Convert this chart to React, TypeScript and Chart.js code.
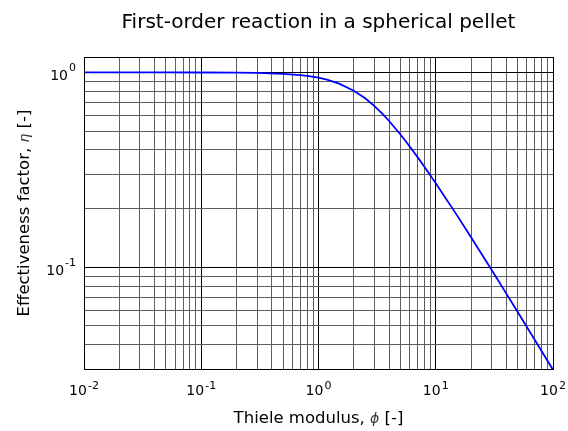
import React, { useEffect, useRef } from "react";
import { Chart, registerables } from "chart.js";

Chart.register(...registerables);

// Thiele modulus (x) and effectiveness factor (y)
const phiValues = [0.01, 0.02, 0.05, 0.1, 0.2, 0.3, 0.5, 0.7, 0.8, 1, 1.2, 1.5, 2, 2.5, 3, 3.5, 4, 5, 6, 7, 8, 10, 15, 20, 30, 40, 50, 70, 100];
const etaValues = [1.0, 0.99997, 0.99983, 0.99933, 0.99734, 0.99405, 0.98373, 0.96886, 0.95977, 0.9391, 0.91552, 0.87625, 0.80597, 0.73628, 0.67164, 0.61381, 0.563, 0.48005, 0.41667, 0.36735, 0.32813, 0.27, 0.18667, 0.1425, 0.09667, 0.073125, 0.0588, 0.042245, 0.0297];

const xMajorTicks = [0.01, 0.1, 1, 10, 100];
const yMajorTicks = [0.1, 1];
const xRange = [0.01, 100];
const yRange = [0.03, 1.2];

const titleText = "First-order reaction in a spherical pellet";
const xLabelText = "Thiele modulus, ";
const xLabelSym = "\u03D5";
const yLabelText = "Effectiveness factor, ";
const yLabelSym = "\u03B7";
const labelTail = " [-]";

const FONT = "'DejaVu Sans', sans-serif";

function allTicks(min: number, max: number): number[] {
  const out: number[] = [];
  for (let e = Math.floor(Math.log10(min)); e <= Math.ceil(Math.log10(max)); e++) {
    for (let m = 1; m <= 9; m++) {
      const v = parseFloat((m * Math.pow(10, e)).toPrecision(6));
      if (v >= min - 1e-12 && v <= max + 1e-12) out.push(v);
    }
  }
  return out;
}

function isMajor(v: number): boolean {
  const l = Math.log10(v);
  return Math.abs(l - Math.round(l)) < 1e-9;
}

const textPlugin = {
  id: "textPlugin",
  afterDraw(chart: any) {
    const { ctx, chartArea: a, scales } = chart;
    ctx.save();
    // frame
    ctx.strokeStyle = "#000";
    ctx.lineWidth = 1;
    ctx.strokeRect(Math.round(a.left) + 0.5, Math.round(a.top) + 0.5, Math.round(a.right - a.left), Math.round(a.bottom - a.top));

    ctx.fillStyle = "#000";
    // title
    ctx.font = `20px ${FONT}`;
    ctx.textAlign = "center";
    ctx.textBaseline = "alphabetic";
    ctx.fillText(titleText, (a.left + a.right) / 2, 28);

    const drawPow = (cx: number, baseY: number, expY: number, exp: number, align: string) => {
      const base = "10";
      const ex = String(exp);
      ctx.font = `14px ${FONT}`;
      const wb = ctx.measureText(base).width;
      ctx.font = `11px ${FONT}`;
      const we = ctx.measureText(ex).width;
      const gap = 1;
      const total = wb + gap + we;
      let x0 = cx - total / 2;
      if (align === "right") x0 = cx - total;
      ctx.textAlign = "left";
      ctx.textBaseline = "alphabetic";
      ctx.font = `14px ${FONT}`;
      ctx.fillText(base, x0, baseY);
      ctx.font = `11px ${FONT}`;
      ctx.fillText(ex, x0 + wb + gap, expY);
    };

    xMajorTicks.forEach((v) => {
      const px = scales.x.getPixelForValue(v);
      drawPow(px, 395, 389, Math.round(Math.log10(v)), "center");
    });
    yMajorTicks.forEach((v) => {
      const py = scales.y.getPixelForValue(v);
      drawPow(a.left - 8, py + 8, py - 1, Math.round(Math.log10(v)), "right");
    });

    // axis labels
    const drawLabel = (pre: string, sym: string, tail: string) => {
      const size = 16.5;
      ctx.font = `${size}px ${FONT}`;
      const w1 = ctx.measureText(pre).width;
      const w3 = ctx.measureText(tail).width;
      ctx.font = `italic 14px ${FONT}`;
      const w2 = ctx.measureText(sym).width;
      const total = w1 + w2 + w3;
      let x = -total / 2;
      ctx.textAlign = "left";
      ctx.textBaseline = "alphabetic";
      ctx.font = `${size}px ${FONT}`;
      ctx.fillText(pre, x, 0);
      x += w1;
      ctx.fillStyle = "#333";
      ctx.font = `italic 14px ${FONT}`;
      ctx.fillText(sym, x, 0);
      ctx.fillStyle = "#000";
      x += w2;
      ctx.font = `${size}px ${FONT}`;
      ctx.fillText(tail, x, 0);
    };

    ctx.save();
    ctx.translate((a.left + a.right) / 2, 423);
    drawLabel(xLabelText, xLabelSym, labelTail);
    ctx.restore();

    ctx.save();
    ctx.translate(29, (a.top + a.bottom) / 2);
    ctx.rotate(-Math.PI / 2);
    drawLabel(yLabelText, yLabelSym, labelTail);
    ctx.restore();

    ctx.restore();
  },
};

export default function App() {
  const ref = useRef<HTMLCanvasElement | null>(null);

  useEffect(() => {
    document.body.style.margin = "0";
    const canvas = ref.current;
    if (!canvas) return;
    const gridColor = (c: any) => (c.tick && isMajor(c.tick.value) ? "#000000" : "#5e5e5e");
    const chart = new Chart(canvas, {
      type: "scatter",
      data: {
        datasets: [
          {
            data: phiValues.map((x, i) => ({ x, y: etaValues[i] })),
            showLine: true,
            borderColor: "#0000ff",
            borderWidth: 1.8,
            pointRadius: 0,
            tension: 0,
          },
        ],
      },
      options: {
        animation: false,
        responsive: false,
        events: [],
        layout: { padding: { top: 57, right: 15, left: 0, bottom: 0 } },
        plugins: { legend: { display: false }, tooltip: { enabled: false }, title: { display: false } },
        scales: {
          x: {
            type: "logarithmic",
            min: xRange[0],
            max: xRange[1],
            afterBuildTicks: (s: any) => {
              s.ticks = allTicks(xRange[0], xRange[1]).map((value) => ({ value, major: isMajor(value) }));
            },
            afterFit: (s: any) => {
              s.height = 62;
            },
            ticks: { display: false, autoSkip: false },
            grid: { color: gridColor, lineWidth: 1, drawTicks: false, tickLength: 0 },
            border: { display: true, color: "#000", width: 1 },
          },
          y: {
            type: "logarithmic",
            min: yRange[0],
            max: yRange[1],
            afterBuildTicks: (s: any) => {
              s.ticks = allTicks(yRange[0], yRange[1]).map((value) => ({ value, major: isMajor(value) }));
            },
            afterFit: (s: any) => {
              s.width = 84;
            },
            ticks: { display: false, autoSkip: false },
            grid: { color: gridColor, lineWidth: 1, drawTicks: false, tickLength: 0 },
            border: { display: true, color: "#000", width: 1 },
          },
        },
      },
      plugins: [textPlugin],
    } as any);
    return () => chart.destroy();
  }, []);

  return (
    <div style={{ width: 568, height: 431, background: "#fff" }}>
      <canvas ref={ref} width={568} height={431} style={{ display: "block", width: 568, height: 431 }} />
    </div>
  );
}
